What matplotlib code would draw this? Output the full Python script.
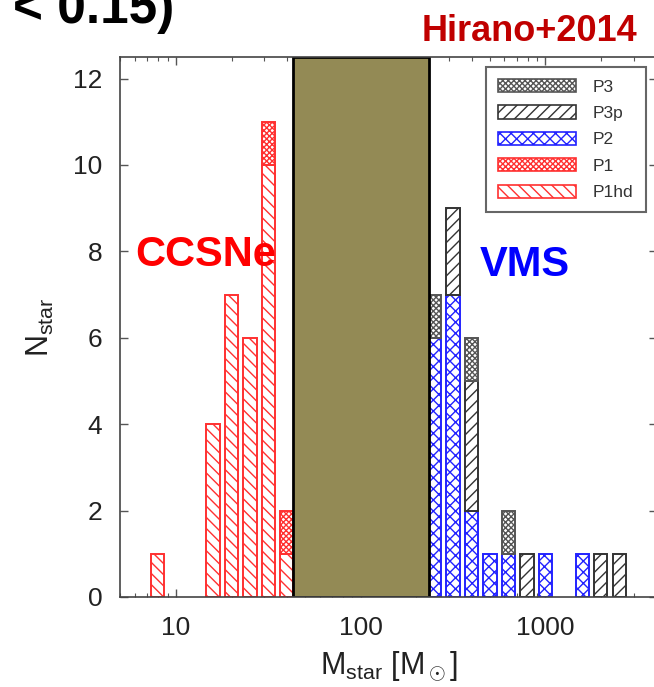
import matplotlib
matplotlib.use('Agg')
import matplotlib.pyplot as plt
import matplotlib.patches as mpatches
from matplotlib.ticker import FixedLocator, NullFormatter, FixedFormatter
import numpy as np

plt.rcParams['font.family'] = ['Liberation Sans', 'DejaVu Sans']
plt.rcParams['mathtext.fontset'] = 'custom'
plt.rcParams['mathtext.rm'] = 'Liberation Sans'
plt.rcParams['mathtext.it'] = 'Liberation Sans:italic'
plt.rcParams['mathtext.sf'] = 'Liberation Sans'
plt.rcParams['hatch.linewidth'] = 1.0

# ---- data (log10 of bin centres, counts per population) ----
logm_left = [0.9, 1.2, 1.3, 1.4, 1.5, 1.6]
p1hd = [1, 4, 7, 6, 10, 1]
p1 = [0, 0, 0, 0, 1, 1]

logm_right = [2.4, 2.5, 2.6, 2.7, 2.8, 2.9, 3.0, 3.2, 3.3, 3.4]
p2 = [6, 7, 2, 1, 1, 0, 1, 1, 0, 0]
p3p = [0, 2, 3, 0, 0, 1, 0, 0, 1, 1]
p3 = [1, 0, 1, 0, 1, 0, 0, 0, 0, 0]

band_range = (43.2, 234.0)
xticks = [10, 100, 1000]
xtick_labels = ['10', '100', '1000']
yticks = [0, 2, 4, 6, 8, 10, 12]

# ---- styles ----
styles = {
    'P3':   dict(edgecolor='#555555', hatch='xxxxxx'),
    'P3p':  dict(edgecolor='#333333', hatch='///'),
    'P2':   dict(edgecolor='#2222ff', hatch='xxx'),
    'P1':   dict(edgecolor='#ff3030', hatch='xxxxxx'),
    'P1hd': dict(edgecolor='#ff3030', hatch='\\\\\\'),
}

W, H = 654, 687
fig = plt.figure(figsize=(W / 100, H / 100), dpi=100)
ax_l, ax_r, ax_t, ax_b = 120.4, 656.6, 57, 597
ax = fig.add_axes([ax_l / W, 1 - ax_b / H, (ax_r - ax_l) / W, (ax_b - ax_t) / H])
ax.set_xscale('log')
ax.set_xlim(5, 4000)
ax.set_ylim(0, 12.5)

HW = 0.036


def draw(centres, heights, bottoms, key):
    c = np.array(centres, dtype=float)
    h = np.array(heights, dtype=float)
    b = np.array(bottoms, dtype=float)
    m = h > 0
    left = 10 ** (c[m] - HW)
    right = 10 ** (c[m] + HW)
    ax.bar(left, h[m], width=right - left, bottom=b[m], align='edge',
           facecolor='white', linewidth=1.4, zorder=2, **styles[key])


zl = np.zeros(len(logm_left))
draw(logm_left, p1hd, zl, 'P1hd')
draw(logm_left, p1, np.array(p1hd), 'P1')

zr = np.zeros(len(logm_right))
draw(logm_right, p2, zr, 'P2')
draw(logm_right, p3p, np.array(p2), 'P3p')
draw(logm_right, p3, np.array(p2) + np.array(p3p), 'P3')

ax.axvspan(band_range[0], band_range[1], facecolor='#938a55', edgecolor='black',
           linewidth=2.0, zorder=3)

# ---- axes styling ----
for s in ax.spines.values():
    s.set_color('#444444')
    s.set_linewidth(1.2)
    s.set_zorder(4)
ax.xaxis.set_major_locator(FixedLocator(xticks))
ax.xaxis.set_major_formatter(FixedFormatter(xtick_labels))
minors = [m * 10 ** e for e in range(0, 4) for m in range(2, 10)]
ax.xaxis.set_minor_locator(FixedLocator(minors))
ax.xaxis.set_minor_formatter(NullFormatter())
ax.set_yticks(yticks)
ax.tick_params(axis='both', which='major', direction='in', length=6, width=1,
               color='#555555', top=True, right=True, labelsize=19,
               labelcolor='#222222')
ax.tick_params(axis='both', which='minor', direction='in', length=3, width=0.8,
               color='#555555', top=True, right=True)
ax.tick_params(axis='x', which='major', pad=14)
ax.tick_params(axis='y', which='major', pad=13)

ax.set_xlabel(r'M$_{\rm star}$ [M$_\odot$]', fontsize=22, color='#222222', labelpad=6)
ax.set_ylabel(r'N$_{\rm star}$', fontsize=22, color='#222222', labelpad=12)

# ---- legend ----
order = ['P3', 'P3p', 'P2', 'P1', 'P1hd']
handles = [mpatches.Patch(facecolor='white', linewidth=1.2, label=k, **styles[k])
           for k in order]
leg = ax.legend(handles=handles, loc='upper right', bbox_to_anchor=(0.9795, 0.982),
                borderaxespad=0, fontsize=12.5, labelcolor='#333333',
                handlelength=4.5, handleheight=0.8, labelspacing=0.62,
                handletextpad=0.95, borderpad=0.7, fancybox=False, framealpha=1)
leg.get_frame().set_edgecolor('#666666')
leg.get_frame().set_linewidth(1.5)
leg.set_zorder(5)

# ---- annotations ----
def ftext(x, y, s, **kw):
    fig.text(x / W, 1 - y / H, s, **kw)

ftext(13, 23, '< 0.15)', fontsize=37, fontweight='bold', color='black', va='baseline')
ftext(637, 41, 'Hirano+2014', fontsize=26, fontweight='bold', color='#c00000',
      va='baseline', ha='right')
ftext(135, 266, 'CCSNe', fontsize=30, fontweight='bold', color='#ff0000', va='baseline')
ftext(480, 276, 'VMS', fontsize=30, fontweight='bold', color='#0000ff', va='baseline')

fig.savefig('out.png', dpi=100, facecolor='white')
